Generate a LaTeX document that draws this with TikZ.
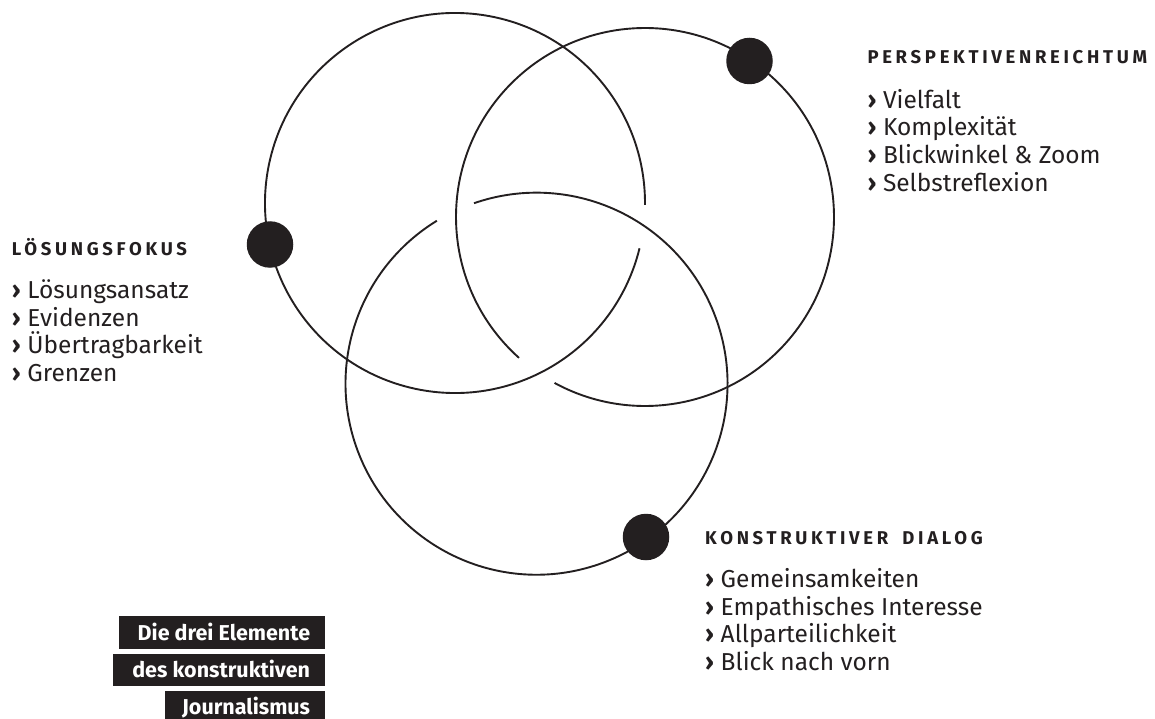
\documentclass[tikz,border=0pt]{standalone}
\usepackage{fontspec}
\setmainfont{Fira Sans}
\newfontfamily\spacedfont{Fira Sans}[LetterSpace=20]
\definecolor{ink}{HTML}{231F20}
\begin{document}
\begin{tikzpicture}[x=1pt,y=-1pt,
  ring/.style={draw=ink,line width=1.9pt},
  blob/.style={circle,fill=ink,inner sep=0pt,minimum size=46.5pt},
  headline/.style={anchor=base west,inner sep=0pt,text=ink,font=\spacedfont\bfseries\fontsize{18.5}{22}\selectfont},
  listitem/.style={anchor=base west,inner sep=0pt,text=ink,font=\fontsize{24.5}{28}\selectfont},
  tag/.style={anchor=north east,fill=ink,text=white,inner sep=0pt,text height=24pt,text depth=8.3pt,font=\bfseries\fontsize{21.5}{24}\selectfont}
]
\useasboundingbox (0,0) rectangle (1155,719);
\newcommand{\bul}{\makebox[15.5pt][l]{\bfseries ›}}
% circles (interlaced)
\draw[ring] (455,203) ++(13.8:190) arc[start angle=13.8,end angle=360.6,radius=190];
\draw[ring] (645,217) ++(131.8:189) arc[start angle=131.8,end angle=478.6,radius=189];
\draw[ring] (536.5,383.7) ++(-109.1:191) arc[start angle=-109.1,end angle=238.55,radius=191];
% dots
\node[blob] (dA) at (270,244.5) {};
\node[blob] (dB) at (749.5,61) {};
\node[blob] (dC) at (646,537) {};
% left list
\node[headline] (hA) at (11.7,255) {LÖSUNGSFOKUS};
\node[listitem] (a1) at (11.7,298.3) {\bul Lösungsansatz};
\node[listitem] (a2) at (11.7,326) {\bul Evidenzen};
\node[listitem] (a3) at (11.7,353.7) {\bul Übertragbarkeit};
\node[listitem] (a4) at (11.7,381.5) {\bul Grenzen};
% right list
\node[headline] (hB) at (867.3,64) {PERSPEKTIVENREICHTUM};
\node[listitem] (b1) at (867.3,108.3) {\bul Vielfalt};
\node[listitem] (b2) at (867.3,136) {\bul Komplexität};
\node[listitem] (b3) at (867.3,163.7) {\bul Blickwinkel \& Zoom};
\node[listitem] (b4) at (867.3,191.4) {\bul Selbstreflexion};
% bottom list
\node[headline] (hC) at (705,544) {KONSTRUKTIVER\hspace{6pt} DIALOG};
\node[listitem] (c1) at (705,587.3) {\bul Gemeinsamkeiten};
\node[listitem] (c2) at (705,615) {\bul Empathisches Interesse};
\node[listitem] (c3) at (705,642.7) {\bul Allparteilichkeit};
\node[listitem] (c4) at (705,670.4) {\bul Blick nach vorn};
% title tags
\node[tag] (t1) at (325.3,616) {\makebox[206pt][r]{Die drei Elemente\hspace{15pt}}};
\node[tag] (t2) at (325.3,653.3) {\makebox[212pt][r]{des konstruktiven\hspace{15pt}}};
\node[tag] (t3) at (325.3,690.7) {\makebox[160.3pt][r]{Journalismus\hspace{15pt}}};
\end{tikzpicture}
\end{document}
